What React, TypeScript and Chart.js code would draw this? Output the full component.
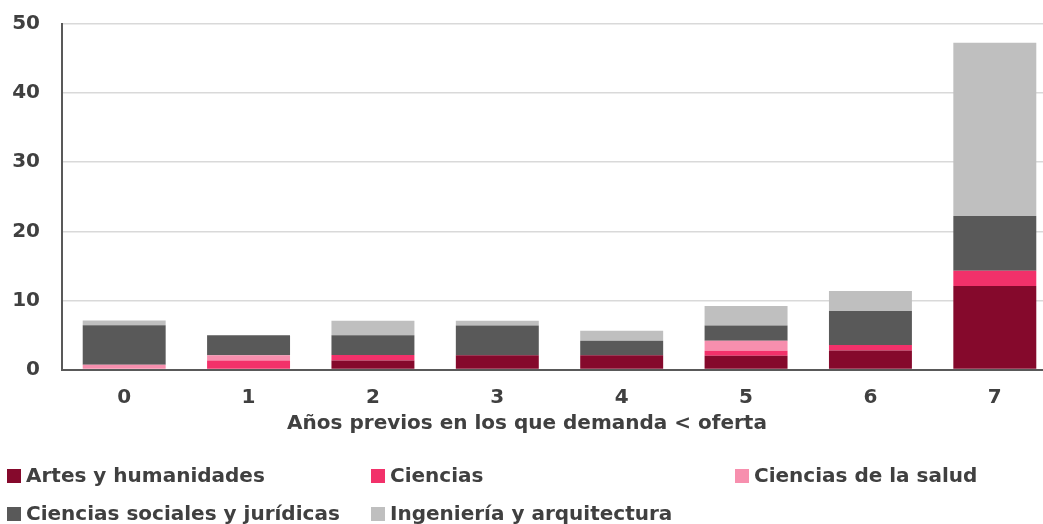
import React, { useEffect, useRef } from "react";
import { Chart, registerables } from "chart.js";

Chart.register(...registerables);

const categories = ["0", "1", "2", "3", "4", "5", "6", "7"];
const artes = [0, 0, 1.3, 2.05, 2.05, 2.0, 2.75, 12.1];
const ciencias = [0, 1.3, 0.8, 0, 0, 0.7, 0.8, 2.2];
const salud = [0.7, 0.75, 0, 0, 0, 1.45, 0, 0];
const sociales = [5.7, 2.9, 2.85, 4.3, 2.1, 2.2, 4.9, 7.9];
const ingenieria = [0.7, 0, 2.1, 0.7, 1.45, 2.85, 2.9, 25.1];
const seriesLabels = [
  "Artes y humanidades",
  "Ciencias",
  "Ciencias de la salud",
  "Ciencias sociales y jurídicas",
  "Ingeniería y arquitectura",
];
const seriesColors = ["#85092C", "#F2316A", "#F78FAE", "#595959", "#BFBFBF"];
const yTicks = [0, 10, 20, 30, 40, 50];
const xTitle = "Años previos en los que demanda < oferta";

const FONT = '"DejaVu Sans"';
const TEXT = "#404040";
const FS = 20;
const LEGEND_POS: [number, number][] = [
  [7, 476],
  [371, 476],
  [735, 476],
  [7, 514],
  [371, 514],
];

const overlay = {
  id: "overlay",
  afterDraw(chart: any) {
    const ctx = chart.ctx;
    ctx.save();
    ctx.font = `bold ${FS}px ${FONT}`;
    ctx.fillStyle = TEXT;
    ctx.textBaseline = "middle";
    ctx.textAlign = "center";
    ctx.fillText(xTitle, 527, 424);
    ctx.textAlign = "left";
    chart.data.datasets.forEach((ds: any, i: number) => {
      const [lx, ly] = LEGEND_POS[i];
      ctx.fillStyle = ds.backgroundColor;
      ctx.fillRect(lx, ly - 7, 14, 14);
      ctx.fillStyle = TEXT;
      ctx.fillText(ds.label, lx + 19, ly + 1);
    });
    ctx.restore();
  },
};

export default function App() {
  const ref = useRef<HTMLCanvasElement>(null);
  useEffect(() => {
    document.body.style.margin = "0";
    document.body.style.overflow = "hidden";
    const values = [artes, ciencias, salud, sociales, ingenieria];
    const chart = new Chart(ref.current as HTMLCanvasElement, {
      type: "bar",
      data: {
        labels: categories,
        datasets: values.map((v, i) => ({
          label: seriesLabels[i],
          data: v,
          backgroundColor: seriesColors[i],
          borderWidth: 0,
          barPercentage: 0.667,
          categoryPercentage: 1,
        })),
      },
      options: {
        responsive: false,
        maintainAspectRatio: false,
        animation: false,
        layout: { padding: { top: 24, left: 0, right: 0, bottom: 0 } },
        plugins: { legend: { display: false }, tooltip: { enabled: false } },
        scales: {
          x: {
            stacked: true,
            grid: { display: false, drawTicks: false },
            border: { color: "#595959", width: 2 },
            ticks: {
              color: TEXT,
              font: { family: FONT, size: FS, weight: "bold" },
              padding: 16,
            },
            afterFit(scale: any) {
              scale.height = 154.5;
              scale.paddingLeft = 0;
              scale.paddingRight = 0;
            },
          },
          y: {
            stacked: true,
            min: 0,
            max: 50,
            afterBuildTicks(scale: any) {
              scale.ticks = yTicks.map((v) => ({ value: v }));
            },
            grid: { color: "#D9D9D9", lineWidth: 1.5, drawTicks: false },
            border: { color: "#595959", width: 2 },
            ticks: {
              color: TEXT,
              font: { family: FONT, size: FS, weight: "bold" },
              padding: 22,
            },
            afterFit(scale: any) {
              scale.width = 62;
              scale.paddingTop = 12;
              scale.paddingBottom = 12;
            },
          },
        },
      },
      plugins: [overlay],
    });
    return () => chart.destroy();
  }, []);
  return (
    <div style={{ width: 1043, height: 524, overflow: "hidden", position: "relative" }}>
      <canvas ref={ref} width={1057} height={524} style={{ display: "block" }} />
    </div>
  );
}
